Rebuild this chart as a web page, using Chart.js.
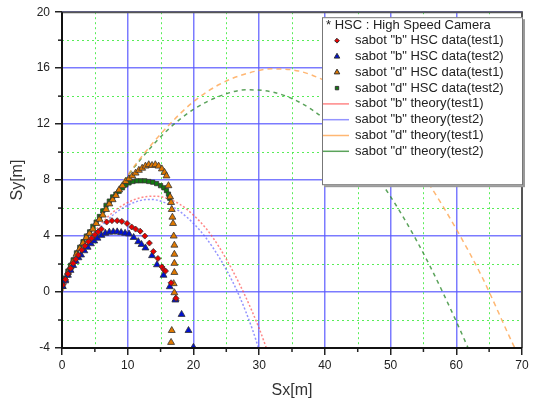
<!DOCTYPE html>
<html>
<head>
<meta charset="utf-8">
<script src="https://cdn.jsdelivr.net/npm/chart.js@4"></script>
<style>
  body { margin: 0; background: #fff; }
  #wrap { width: 535px; height: 406px; position: relative; }
</style>
</head>
<body>
<div id="wrap"><canvas id="chart"></canvas></div>
<script>
const bTest1X = [0.1, 0.5, 0.9, 1.3, 1.7, 2.1, 2.5, 3.0, 3.5, 4.0, 4.5, 5.0, 5.5, 6.0, 6.8, 7.6, 8.4, 9.1, 9.9, 10.6, 11.2, 11.9, 12.6, 13.3, 13.9, 14.6, 15.2, 15.5, 15.75, 16.6, 17.35];
const bTest1Y = [0.5, 0.9, 1.3, 1.7, 2.05, 2.35, 2.65, 3.0, 3.3, 3.6, 3.85, 4.1, 4.3, 4.5, 5.0, 5.1, 5.1, 5.05, 4.9, 4.65, 4.5, 4.35, 4.0, 3.5, 2.9, 2.4, 1.8, 1.6, 1.5, 0.66, -0.45];

const bTest2X = [0.1, 0.5, 0.9, 1.3, 1.7, 2.1, 2.5, 2.9, 3.4, 3.9, 4.4, 4.9, 5.4, 6.0, 6.6, 7.2, 7.8, 8.4, 9.0, 9.6, 10.2, 10.9, 11.6, 12.1, 12.7, 13.7, 14.45, 15.45, 16.4, 17.25, 18.2, 19.25, 20.0];
const bTest2Y = [0.4, 0.8, 1.2, 1.55, 1.9, 2.2, 2.45, 2.65, 2.95, 3.2, 3.45, 3.65, 3.85, 4.05, 4.2, 4.28, 4.3, 4.3, 4.25, 4.2, 4.15, 3.9, 3.6, 3.4, 3.15, 2.6, 1.95, 1.2, 0.38, -0.57, -1.6, -2.75, -3.95];

const dTest1X = [0.1, 0.5, 0.9, 1.3, 1.7, 2.2, 2.7, 3.2, 3.7, 4.2, 4.7, 5.2, 5.7, 6.2, 6.7, 7.2, 7.7, 8.2, 8.7, 9.2, 9.7, 10.2, 10.7, 11.2, 11.7, 12.2, 12.7, 13.2, 13.7, 14.2, 14.7, 15.2, 15.6, 15.9, 16.2, 16.45, 16.6, 16.7, 16.8, 16.9, 17.0, 17.1, 17.1, 17.1, 17.1, 17.0, 17.1, 17.3, 16.7, 16.6];
const dTest1Y = [0.4, 0.9, 1.4, 1.8, 2.2, 2.7, 3.1, 3.5, 3.9, 4.2, 4.5, 4.9, 5.2, 5.5, 5.9, 6.3, 6.6, 6.9, 7.3, 7.6, 7.9, 8.1, 8.3, 8.5, 8.7, 8.85, 9.0, 9.1, 9.05, 9.1, 9.0, 8.8, 8.55, 8.3, 7.6, 6.8, 6.4, 5.9, 5.35, 4.9, 4.0, 3.35, 2.7, 2.05, 1.4, 0.6, -0.05, -0.5, -2.75, -3.6];

const dTest2X = [0.1, 0.5, 0.9, 1.3, 1.7, 2.2, 2.7, 3.2, 3.7, 4.2, 4.7, 5.2, 5.7, 6.2, 6.7, 7.2, 7.7, 8.2, 8.7, 9.2, 9.7, 10.2, 10.8, 11.4, 12.0, 12.6, 13.2, 13.8, 14.4, 15.0, 15.5, 15.9, 16.2, 16.4];
const dTest2Y = [0.6, 1.0, 1.5, 1.9, 2.3, 2.8, 3.2, 3.6, 4.0, 4.3, 4.7, 5.0, 5.4, 5.8, 6.2, 6.5, 6.8, 7.0, 7.2, 7.45, 7.65, 7.8, 7.9, 7.95, 7.95, 7.95, 7.9, 7.85, 7.75, 7.6, 7.45, 7.25, 7.0, 6.7];

// theory curves
const bTheory1X = [0, 2, 4, 6, 8, 10, 12, 14, 16, 18, 20, 22, 24, 26, 28, 30, 31.1];
const bTheory1Y = [0, 2.1, 3.7, 4.9, 5.8, 6.4, 6.75, 6.85, 6.7, 6.25, 5.5, 4.5, 3.15, 1.5, -0.4, -2.6, -4];
const bTheory2X = [0, 2, 4, 6, 8, 10, 12, 13.5, 15, 17, 19, 21, 23, 25, 27, 29, 29.9];
const bTheory2Y = [0, 2.0, 3.55, 4.7, 5.6, 6.2, 6.55, 6.62, 6.5, 6.05, 5.35, 4.4, 3.15, 1.6, -0.3, -2.7, -4];
const dTheory1X = [0, 4, 8, 12, 16, 20, 24, 28, 32, 36, 40, 44, 48, 52, 56, 60, 64, 68, 68.9];
const dTheory1Y = [0, 3.9, 7.0, 9.6, 11.8, 13.6, 14.85, 15.6, 15.95, 15.8, 15.1, 13.95, 12.3, 10.2, 7.6, 4.5, 1.0, -3.1, -4];
const dTheory2X = [0, 4, 8, 12, 16, 20, 24, 28, 32, 36, 40, 44, 48, 52, 56, 60, 61.8];
const dTheory2Y = [0, 3.9, 7.0, 9.5, 11.55, 13.05, 14.0, 14.45, 14.3, 13.6, 12.35, 10.55, 8.2, 5.3, 1.85, -2.1, -4];

const xMinor = [5, 15, 25, 35, 45, 55, 65];
const yMinor = [-2, 2, 6, 10, 14, 18];
const legendHeader = '* HSC : High Speed Camera';

function pts(xs, ys) {
    return xs.map((x, i) => ({ x: x, y: ys[i] }));
}

function marker(label, xs, ys, style, radius, fill) {
    return {
        label: label,
        data: pts(xs, ys),
        pointStyle: style,
        pointRadius: radius,
        backgroundColor: fill,
        borderColor: '#333',
        borderWidth: 0.8,
        showLine: false
    };
}

function theory(label, xs, ys, color, dash) {
    return {
        label: label,
        data: pts(xs, ys),
        showLine: true,
        pointRadius: 0,
        borderColor: color,
        borderWidth: 1.5,
        borderDash: dash,
        cubicInterpolationMode: 'monotone',
        legendColor: color
    };
}

const minorGrid = {
    id: 'minorGrid',
    beforeDatasetsDraw(chart) {
        const { ctx, chartArea: a, scales: { x, y } } = chart;
        ctx.save();
        ctx.strokeStyle = 'rgba(70,235,70,0.9)';
        ctx.lineWidth = 1;
        ctx.setLineDash([2, 3]);
        xMinor.forEach(v => {
            const px = Math.round(x.getPixelForValue(v)) + 0.5;
            ctx.beginPath(); ctx.moveTo(px, a.top); ctx.lineTo(px, a.bottom); ctx.stroke();
        });
        yMinor.forEach(v => {
            const py = Math.round(y.getPixelForValue(v)) + 0.5;
            ctx.beginPath(); ctx.moveTo(a.left, py); ctx.lineTo(a.right, py); ctx.stroke();
        });
        ctx.restore();
    },
    afterDatasetsDraw(chart) {
        const { ctx, chartArea: a, scales: { x, y } } = chart;
        ctx.save();
        // minor tick marks
        ctx.strokeStyle = '#222';
        ctx.lineWidth = 1.5;
        xMinor.forEach(v => {
            const px = x.getPixelForValue(v);
            ctx.beginPath(); ctx.moveTo(px, a.bottom); ctx.lineTo(px, a.bottom + 4); ctx.stroke();
        });
        yMinor.forEach(v => {
            const py = y.getPixelForValue(v);
            ctx.beginPath(); ctx.moveTo(a.left - 4, py); ctx.lineTo(a.left, py); ctx.stroke();
        });
        // frame
        ctx.lineWidth = 2;
        ctx.strokeStyle = '#555';
        ctx.beginPath();
        ctx.moveTo(a.left, a.top); ctx.lineTo(a.right, a.top); ctx.lineTo(a.right, a.bottom);
        ctx.stroke();
        ctx.strokeStyle = '#111';
        ctx.beginPath();
        ctx.moveTo(a.left, a.top); ctx.lineTo(a.left, a.bottom); ctx.lineTo(a.right, a.bottom);
        ctx.stroke();
        ctx.restore();
    }
};

const boxLegend = {
    id: 'boxLegend',
    afterDraw(chart) {
        const { ctx, chartArea: a } = chart;
        const left = a.right - 200, top = a.top + 5, w = 201, h = 168;
        ctx.save();
        ctx.fillStyle = '#999';
        ctx.fillRect(left + 2, top + 2, w, h);
        ctx.fillStyle = '#fff';
        ctx.fillRect(left, top, w, h);
        ctx.strokeStyle = '#777';
        ctx.lineWidth = 1;
        ctx.strokeRect(left + 0.5, top + 0.5, w - 1, h - 1);

        ctx.font = '13px "Liberation Sans", Arial, sans-serif';
        ctx.fillStyle = '#222';
        ctx.textBaseline = 'middle';
        ctx.fillText(legendHeader, left + 4, top + 8);

        chart.data.datasets.forEach((ds, i) => {
            const cy = top + 23.5 + i * 15.8;
            if (ds.showLine) {
                ctx.strokeStyle = ds.legendColor;
                ctx.lineWidth = 1.5;
                ctx.setLineDash([]);
                ctx.beginPath(); ctx.moveTo(left + 1, cy); ctx.lineTo(left + 27, cy); ctx.stroke();
            } else {
                ctx.fillStyle = ds.backgroundColor;
                ctx.strokeStyle = ds.borderColor;
                Chart.helpers.drawPoint(ctx, {
                    pointStyle: ds.pointStyle,
                    radius: ds.pointRadius * 0.8,
                    rotation: 0,
                    borderWidth: 0.5
                }, left + 15, cy);
            }
            ctx.fillStyle = '#222';
            ctx.fillText(ds.label, left + 33, cy);
        });
        ctx.restore();
    }
};

new Chart(document.getElementById('chart'), {
    type: 'scatter',
    data: {
        datasets: [
            marker('sabot "b" HSC data(test1)', bTest1X, bTest1Y, 'rectRot', 3, '#e80000'),
            marker('sabot "b" HSC data(test2)', bTest2X, bTest2Y, 'triangle', 4, '#0010d0'),
            marker('sabot "d" HSC data(test1)', dTest1X, dTest1Y, 'triangle', 4, '#e07800'),
            marker('sabot "d" HSC data(test2)', dTest2X, dTest2Y, 'rect', 3, '#127a12'),
            theory('sabot "b" theory(test1)', bTheory1X, bTheory1Y, 'rgba(255,70,70,0.65)', [2, 2]),
            theory('sabot "b" theory(test2)', bTheory2X, bTheory2Y, 'rgba(90,90,255,0.65)', [2, 2]),
            theory('sabot "d" theory(test1)', dTheory1X, dTheory1Y, 'rgba(255,165,80,0.8)', [5, 4]),
            theory('sabot "d" theory(test2)', dTheory2X, dTheory2Y, 'rgba(50,140,50,0.8)', [4, 4])
        ]
    },
    options: {
        responsive: true,
        maintainAspectRatio: false,
        animation: false,
        layout: { padding: { top: 10, right: 13, left: 0, bottom: 0 } },
        plugins: {
            legend: { display: false },
            tooltip: { enabled: false }
        },
        scales: {
            x: {
                type: 'linear',
                min: 0,
                max: 70,
                afterFit(scale) { scale.height = 58; },
                ticks: {
                    stepSize: 10,
                    padding: 3,
                    color: '#222',
                    font: { family: '"Liberation Sans", Arial, sans-serif', size: 12 }
                },
                grid: {
                    color: 'rgba(90,90,255,0.8)',
                    lineWidth: 1.5,
                    tickColor: '#222',
                    tickLength: 7,
                    tickWidth: 1.5
                },
                border: { display: false },
                title: {
                    display: true,
                    text: 'Sx[m]',
                    color: '#333',
                    font: { family: '"Liberation Sans", Arial, sans-serif', size: 16 },
                    padding: { top: 0, bottom: 6 }
                }
            },
            y: {
                type: 'linear',
                min: -4,
                max: 20,
                afterFit(scale) { scale.width = 62; },
                ticks: {
                    stepSize: 4,
                    padding: 5,
                    color: '#222',
                    font: { family: '"Liberation Sans", Arial, sans-serif', size: 12 }
                },
                grid: {
                    color: 'rgba(90,90,255,0.8)',
                    lineWidth: 1.5,
                    tickColor: '#222',
                    tickLength: 7,
                    tickWidth: 1.5
                },
                border: { display: false },
                title: {
                    display: true,
                    text: 'Sy[m]',
                    color: '#333',
                    font: { family: '"Liberation Sans", Arial, sans-serif', size: 16 },
                    padding: { top: 8, bottom: 0 }
                }
            }
        }
    },
    plugins: [minorGrid, boxLegend]
});
</script>
</body>
</html>
